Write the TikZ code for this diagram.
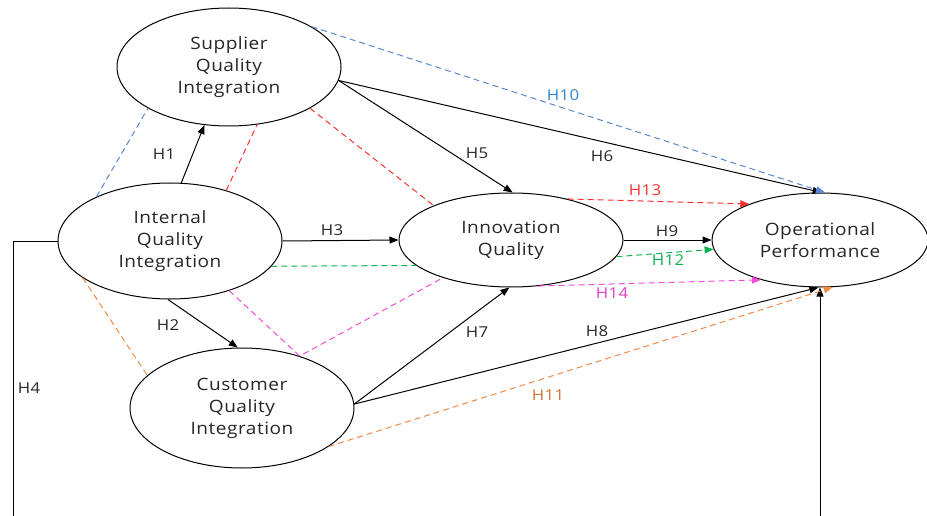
\documentclass[tikz,border=0pt]{standalone}
\usepackage{fontspec}
\setmainfont{Open Sans}[FakeStretch=1.12, LetterSpace=3]
\usetikzlibrary{arrows.meta,shapes.geometric,positioning,calc}
\definecolor{lnblue}{HTML}{5A87D2}
\definecolor{txblue}{HTML}{2F86CF}
\definecolor{lnred}{HTML}{FF3030}
\definecolor{lngreen}{HTML}{10B050}
\definecolor{lnpink}{HTML}{EE4FD8}
\definecolor{txpink}{HTML}{E03CC8}
\definecolor{lnorange}{HTML}{F28A46}
\definecolor{txorange}{HTML}{CF7234}
\begin{document}
\begin{tikzpicture}[x=1pt,y=-1pt, line join=round,
  construct/.style={draw, ellipse, line width=1pt, inner sep=0pt, align=center,
    font=\fontsize{17}{22}\selectfont, text=black!85},
  arr/.style={line width=1pt, -{Triangle[length=9pt,width=7pt]}},
  link/.style={line width=1pt, dash pattern=on 6pt off 4pt},
  hlab/.style={font=\fontsize{15}{17}\selectfont, text=black!85}]
\useasboundingbox (0,0) rectangle (927,516);
% constructs
\node[construct, minimum width=224pt, minimum height=118pt] (SQI) at (229,67) {Supplier\\Quality\\Integration};
\node[construct, minimum width=224pt, minimum height=116pt] (IQI) at (170,241) {Internal\\Quality\\Integration};
\node[construct, minimum width=224pt, minimum height=120pt] (CQI) at (242,408) {Customer\\Quality\\Integration};
\node[construct, minimum width=224pt, minimum height=94pt] (IQ) at (511,240) {Innovation\\Quality};
\node[construct, minimum width=216pt, minimum height=94pt] (OP) at (820,240) {Operational\\Performance};
% direct paths
\draw[arr] (IQI.79) -- (SQI.247);   % H1
\draw[arr] (IQI.268) -- (CQI.94);   % H2
\draw[arr] (IQI.east) -- (IQ.west); % H3
\draw[arr] (SQI.353) -- (IQ.88);    % H5
\draw[arr] (SQI.353) -- (OP.88);    % H6
\draw[arr] (CQI.2) -- (IQ.268);     % H7
\draw[arr] (CQI.2) -- (OP.268);     % H8
\draw[arr] (IQ.east) -- (OP.west);  % H9
\coordinate (h4l) at (13,241);
\coordinate (h4b) at (13,540);
\draw[arr] (IQI.west) -- (h4l) -- (h4b) -| (OP.south); % H4
% mediated paths
\draw[link, lnblue] (IQI.149) -- (SQI.207);
\draw[link, lnblue, arr] (SQI.26) -- (OP.84);           % H10
\draw[link, lnred] (IQI.42) -- (SQI.296);
\draw[link, lnred] (SQI.333) -- (IQ.156);
\draw[link, lnred, arr] (IQ.36) -- (OP.153);            % H13
\draw[link, lngreen] (IQI.346) -- (IQ.195);
\draw[link, lngreen, arr] (IQ.351) -- (OP.185);         % H12
\draw[link, lnpink] (IQI.320) -- (CQI.42) -- (IQ.209);
\draw[link, lnpink, arr] (IQ.301) -- (OP.214);          % H14
\draw[link, lnorange] (IQI.203) -- (CQI.161);
\draw[link, lnorange, arr] (CQI.336) -- (OP.285);       % H11
% hypothesis labels
\node[hlab] (h1) at (164,154) {H1};
\node[hlab] (h2) at (168,325) {H2};
\node[hlab] (h3) at (332,230) {H3};
\node[hlab] (h4) at (29,388) {H4};
\node[hlab] (h5) at (477,153) {H5};
\node[hlab] (h6) at (602,156) {H6};
\node[hlab] (h7) at (477,332) {H7};
\node[hlab] (h8) at (597,331) {H8};
\node[hlab] (h9) at (667,231) {H9};
\node[hlab, text=txblue] (h10) at (563,95) {H10};
\node[hlab, text=txorange] (h11) at (548,395) {H11};
\node[hlab, text=lngreen] (h12) at (668,260) {H12};
\node[hlab, text=lnred] (h13) at (645,190) {H13};
\node[hlab, text=txpink] (h14) at (612,293) {H14};
\end{tikzpicture}
\end{document}
